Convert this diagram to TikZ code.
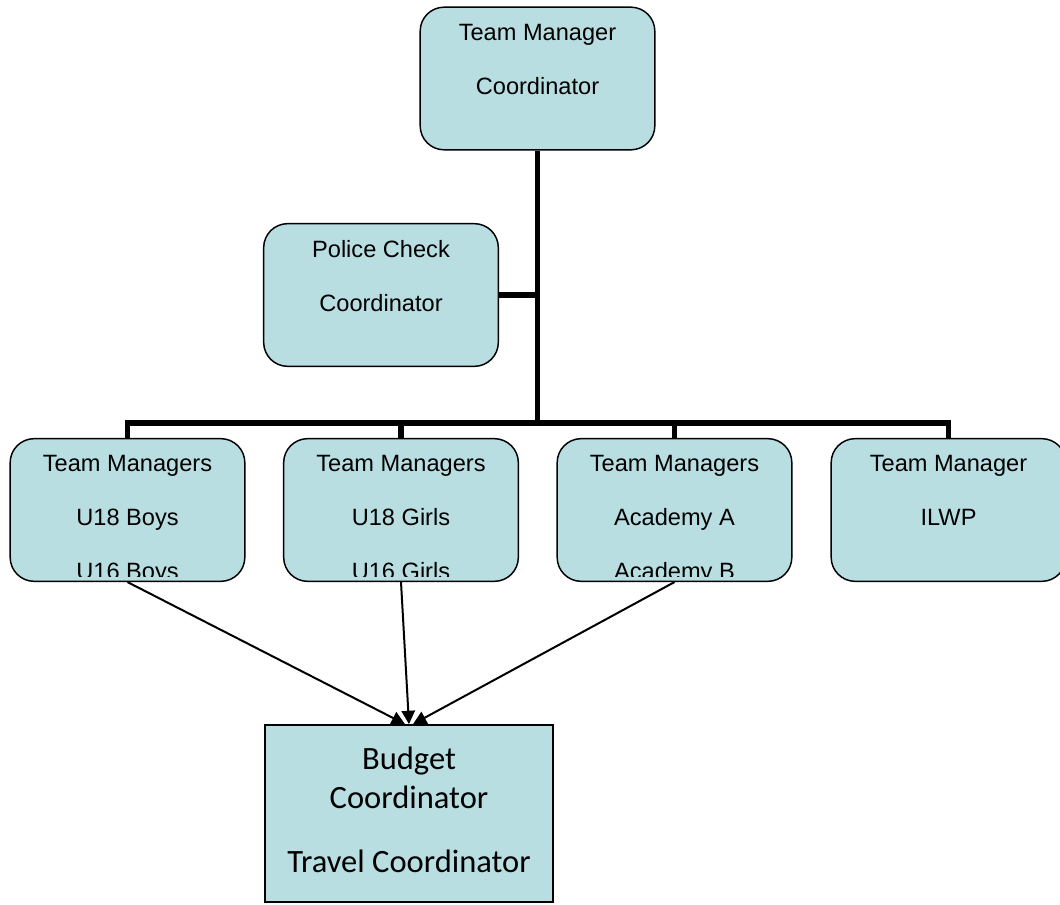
\documentclass[tikz,border=0pt]{standalone}
\usepackage{fontspec}
\setmainfont{Liberation Sans}
\newfontfamily\arialfont{Liberation Sans}
\newfontfamily\calibrifont{Carlito}
\usetikzlibrary{arrows.meta}
\definecolor{boxblue}{RGB}{184,222,226}
\tikzset{
  box/.style={draw, line width=1.1pt, fill=boxblue, rounded corners=18pt,
    minimum width=176pt, minimum height=107pt, inner sep=0pt},
  sqbox/.style={draw, line width=1.1pt, fill=boxblue,
    minimum width=216pt, minimum height=133pt, inner sep=0pt},
  lbl/.style={anchor=north, inner sep=0pt, align=center,
    font=\arialfont\fontsize{17.7}{40.5}\selectfont},
  conn/.style={line width=4pt, miter limit=2},
  arr/.style={line width=1.5pt, -{Triangle[length=10pt,width=10pt]}}
}
\begin{document}
\begin{tikzpicture}[x=0.75pt, y=-0.75pt]
  \clip (0,0) rectangle (1060,905);
  % boxes
  \node[box] (tm) at (537.5,78.5) {};
  \node[box] (pc) at (381,295) {};
  \node[box] (u18b) at (127.5,510) {};
  \node[box] (u18g) at (401,510) {};
  \node[box] (acad) at (674.5,510) {};
  \node[box] (ilwp) at (948.5,510) {};
  \node[sqbox] (bud) at (409,813.5) {};
  % texts
  \node[lbl] (tm-t) at ([yshift=-13pt]tm.north) {Team Manager\\Coordinator};
  \node[lbl] (pc-t) at ([yshift=-13pt]pc.north) {Police Check\\Coordinator};
  \begin{scope}
    \clip ([yshift=4pt]u18b.south west) rectangle (acad.north east);
    \node[lbl] (u18b-t) at ([yshift=-13pt]u18b.north) {Team Managers\\U18 Boys\\U16 Boys};
    \node[lbl] (u18g-t) at ([yshift=-13pt]u18g.north) {Team Managers\\U18 Girls\\U16 Girls};
    \node[lbl] (acad-t) at ([yshift=-13pt]acad.north) {Team Managers\\Academy A\\Academy B};
  \end{scope}
  \node[lbl] (ilwp-t) at ([yshift=-13pt]ilwp.north) {Team Manager\\ILWP};
  \node[lbl, font=\calibrifont\fontsize{24.4}{29}\selectfont] (bud-t) at ([yshift=-17pt]bud.north)
    {Budget\\Coordinator\\[19pt]Travel Coordinator};
  % connectors
  \coordinate (bus) at (537.5,423);
  \draw[conn] (tm.south) -- (bus);
  \draw[conn] (pc.east) -- (pc.east -| tm.south);
  \foreach \n in {u18b,u18g,acad,ilwp}
    \draw[conn] (\n.north) |- (bus);
  % arrows
  \draw[arr] (u18b.south) -- ([xshift=-3pt]bud.north);
  \draw[arr] (u18g.south) -- (bud.north);
  \draw[arr] (acad.south) -- ([xshift=3pt]bud.north);
\end{tikzpicture}
\end{document}
